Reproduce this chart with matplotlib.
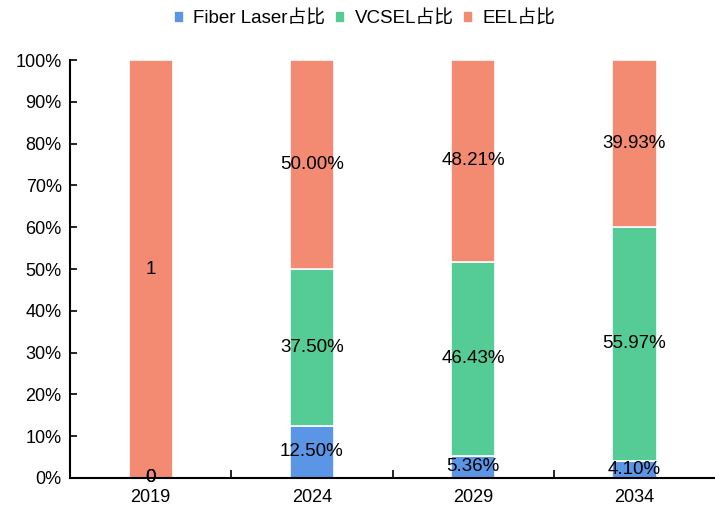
import matplotlib.pyplot as plt
import numpy as np

plt.rcParams['font.family'] = ['Liberation Sans', 'Noto Sans CJK SC', 'DejaVu Sans']

# share of each laser type per year
years = ['2019', '2024', '2029', '2034']
fiber = [0.0, 0.1250, 0.0536, 0.0410]
vcsel = [0.0, 0.3750, 0.4643, 0.5597]
eel = [1.0, 0.5000, 0.4821, 0.3993]
series_names = ['Fiber Laser占比', 'VCSEL占比', 'EEL占比']
colors = ['#5b96e6', '#55cc96', '#f28b72']

fig = plt.figure(figsize=(7.15, 5.09), dpi=100)
ax = fig.add_axes([0.098, 0.061, 0.902, 0.821])

x = np.arange(len(years))
bottom = np.zeros(len(years))
for vals, name, c in zip([fiber, vcsel, eel], series_names, colors):
    vals = np.array(vals)
    ax.bar(x, vals, 0.275, bottom=bottom, color=c, edgecolor='white',
           linewidth=1.2, label=name)
    for i, v in enumerate(vals):
        if years[i] == '2019':
            txt = '%g' % v
        else:
            txt = '%.2f%%' % (v * 100)
        ax.text(x[i], bottom[i] + v / 2, txt, ha='center', va='center',
                fontsize=13.5, color='black')
    bottom += vals

ax.set_xlim(-0.5, 3.5)
ax.set_ylim(0, 1)
ax.set_yticks(np.arange(0, 1.01, 0.1))
ax.set_yticklabels(['%d%%' % round(v * 100) for v in np.arange(0, 1.01, 0.1)])
ax.set_xticks(x)
ax.set_xticklabels(years)
ax.set_xticks([0.5, 1.5, 2.5], minor=True)
ax.tick_params(axis='x', which='major', length=0, labelsize=13, pad=8)
ax.tick_params(axis='x', which='minor', direction='in', length=6, width=1.2)
ax.tick_params(axis='y', direction='in', length=5, width=1.2, labelsize=13, pad=6)

for s in ['top', 'right']:
    ax.spines[s].set_visible(False)
ax.spines['left'].set_linewidth(1.5)
ax.spines['bottom'].set_linewidth(1.5)

fig.legend(loc='upper center', bbox_to_anchor=(0.51, 1.012), ncol=3, frameon=False,
           fontsize=13.5, handlelength=0.55, handleheight=0.55, handletextpad=0.5,
           columnspacing=0.5)

fig.savefig('out.png', dpi=100)
